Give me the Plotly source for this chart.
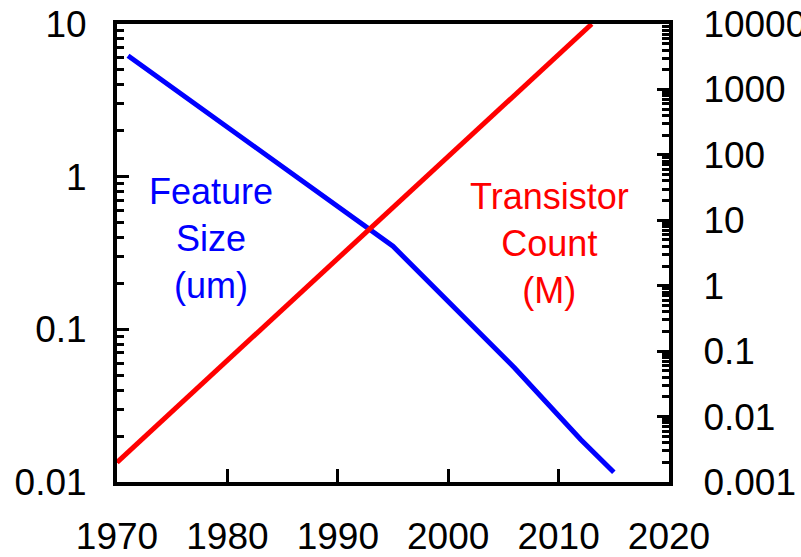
import plotly.graph_objects as go

# Feature size (um), left axis
feat_years = [1971, 1995, 2006, 2008, 2010, 2012, 2015]
feat_vals = [6.2, 0.35, 0.056, 0.039, 0.027, 0.019, 0.0116]

# Transistor count (M), right axis
tr_years = [1970, 1995, 2006, 2010, 2013]
tr_vals = [0.002, 15.7, 810, 3400, 10000]

x_ticks = [1970, 1980, 1990, 2000, 2010, 2020]
y1_ticks = [0.01, 0.1, 1, 10]
y1_labels = ["0.01", "0.1", "1", "10"]
y2_ticks = [0.001, 0.01, 0.1, 1, 10, 100, 1000, 10000]
y2_labels = ["0.001", "0.01", "0.1", "1", "10", "100", "1000", "10000"]

def minors(lo_exp, hi_exp):
    return [m * 10 ** e for e in range(lo_exp, hi_exp) for m in range(2, 10)]

FONT = "Liberation Sans, Arial, sans-serif"

fig = go.Figure()
fig.add_trace(go.Scatter(x=feat_years, y=feat_vals, mode="lines",
                         line=dict(color="#0000FF", width=5), yaxis="y"))
fig.add_trace(go.Scatter(x=tr_years, y=tr_vals, mode="lines",
                         line=dict(color="#FF0000", width=5), yaxis="y2"))

fig.update_layout(
    width=801, height=557,
    margin=dict(l=117, r=132, t=24, b=75),
    paper_bgcolor="white", plot_bgcolor="white",
    showlegend=False,
    font=dict(family=FONT, size=37, color="black"),
    xaxis=dict(range=[1970, 2020], tickvals=x_ticks, ticks="inside", ticklen=13,
               tickwidth=3, tickcolor="black", showline=True, linewidth=4,
               linecolor="black", mirror=True, showgrid=False, zeroline=False,
               ticklabelstandoff=19, automargin=False),
    yaxis=dict(type="log", range=[-2, 1], tickvals=y1_ticks, ticktext=y1_labels,
               ticks="inside", ticklen=12, tickwidth=3, tickcolor="black",
               minor=dict(tickvals=minors(-2, 1), ticks="inside", ticklen=7,
                          tickwidth=3, tickcolor="black", showgrid=False),
               showline=True, linewidth=4, linecolor="black", showgrid=False,
               zeroline=False, ticklabelstandoff=19, automargin=False),
    yaxis2=dict(type="log", range=[-3, 4], tickvals=y2_ticks, ticktext=y2_labels,
                overlaying="y", side="right",
                ticks="inside", ticklen=12, tickwidth=3, tickcolor="black",
                minor=dict(tickvals=minors(-3, 4), ticks="inside", ticklen=7,
                           tickwidth=3, tickcolor="black", showgrid=False),
                showline=True, linewidth=4, linecolor="black", showgrid=False,
                zeroline=False, ticklabelstandoff=23, automargin=False),
)

fig.add_annotation(text="Feature<br>Size<br>(um)", xref="paper", yref="paper",
                   x=0.171, y=0.532, xanchor="center", yanchor="middle",
                   showarrow=False, font=dict(family=FONT, size=36, color="#0000FF"))
fig.add_annotation(text="Transistor<br>Count<br>(M)", xref="paper", yref="paper",
                   x=0.784, y=0.521, xanchor="center", yanchor="middle",
                   showarrow=False, font=dict(family=FONT, size=36, color="#FF0000"))

fig.write_html("out.html")
